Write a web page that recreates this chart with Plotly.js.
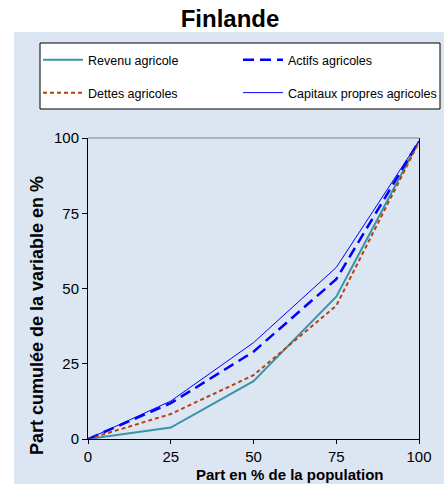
<!DOCTYPE html>
<html>
<head>
<meta charset="utf-8">
<script src="https://cdn.plot.ly/plotly-3.0.1.min.js"></script>
<style>html,body{margin:0;padding:0;background:#fff;}#chart{width:444px;height:484px;}</style>
</head>
<body>
<div id="chart"></div>
<script>
// Data
const popShare = [0, 25, 50, 75, 100];
const revenuAgricole = [0, 3.8, 19.2, 47.3, 99];
const actifsAgricoles = [0, 11.9, 29.0, 53.1, 99];
const dettesAgricoles = [0, 8.3, 21.2, 44.3, 98.7];
const capitauxPropres = [0, 12.6, 32.0, 57.0, 99];
const tickValues = [0, 25, 50, 75, 100];
const tickLabels = ['0', '25', '50', '75', '100'];
const seriesNames = ['Revenu agricole', 'Actifs agricoles', 'Dettes agricoles', 'Capitaux propres agricoles'];

const W = 444, H = 484;
const L = 88, R = 25, T = 138, B = 45;
const pw = W - L - R, ph = H - T - B;
const px = v => (v - L) / pw;          // pixel x -> paper
const py = v => (H - B - v) / ph;      // pixel y -> paper
const FONT = '"Liberation Sans", Arial, sans-serif';
const BG = '#DCE6F2';

const traces = [
  {x: popShare, y: revenuAgricole, name: seriesNames[0], mode: 'lines',
   line: {color: '#3A93A8', width: 2}, legend: 'legend'},
  {x: popShare, y: actifsAgricoles, name: seriesNames[1], mode: 'lines',
   line: {color: '#0000FF', width: 2.5, dash: '11px,6px'}, legend: 'legend'},
  {x: popShare, y: dettesAgricoles, name: seriesNames[2], mode: 'lines',
   line: {color: '#B5420F', width: 2, dash: '4px,3px'}, legend: 'legend2'},
  {x: popShare, y: capitauxPropres, name: seriesNames[3], mode: 'lines',
   line: {color: '#0000FF', width: 1}, legend: 'legend2'}
];

const legendCommon = {
  orientation: 'h', xref: 'paper', yref: 'paper',
  xanchor: 'left', yanchor: 'middle',
  bgcolor: 'rgba(0,0,0,0)', borderwidth: 0,
  entrywidth: 145, entrywidthmode: 'pixels',
  itemwidth: 40,
  font: {family: FONT, size: 12.5, color: '#000'},
  traceorder: 'normal'
};

const layout = {
  width: W, height: H,
  margin: {l: L, r: R, t: T, b: B, pad: 0, autoexpand: false},
  paper_bgcolor: '#FFFFFF',
  plot_bgcolor: BG,
  showlegend: true,
  title: {text: '<b>Finlande</b>', font: {family: FONT, size: 24, color: '#000'},
          xref: 'container', yref: 'container', x: 230 / W, xanchor: 'center',
          y: 1 - 19 / H, yanchor: 'middle'},
  legend: Object.assign({}, legendCommon, {x: px(38), y: py(60)}),
  legend2: Object.assign({}, legendCommon, {x: px(38), y: py(93)}),
  xaxis: {
    range: [0, 100], tickvals: tickValues, ticktext: tickLabels,
    showgrid: false, zeroline: false, showline: true, linecolor: '#000', linewidth: 1,
    ticks: 'outside', ticklen: 4, tickcolor: '#000', tickwidth: 1,
    tickfont: {family: FONT, size: 15, color: '#000'}, fixedrange: true
  },
  yaxis: {
    range: [0, 100], tickvals: tickValues, ticktext: tickLabels,
    showgrid: false, zeroline: false, showline: true, linecolor: '#000', linewidth: 1,
    mirror: true,
    ticks: 'outside', ticklen: 5, tickcolor: '#000', tickwidth: 1,
    tickfont: {family: FONT, size: 15, color: '#000'}, fixedrange: true
  },
  shapes: [
    {type: 'rect', xref: 'paper', yref: 'paper', layer: 'below',
     x0: px(14), x1: px(450), y0: py(490), y1: py(32),
     fillcolor: BG, line: {width: 0}},
    {type: 'rect', xref: 'paper', yref: 'paper', layer: 'below',
     x0: px(40), x1: px(440), y0: py(109), y1: py(43),
     fillcolor: '#FFFFFF', line: {color: '#000', width: 1}},
    {type: 'line', xref: 'paper', yref: 'paper', layer: 'above',
     x0: 0, x1: 1, y0: 1, y1: 1, line: {color: '#808080', width: 1}}
  ],
  annotations: [
    {text: '<b>Part en % de la population</b>', xref: 'paper', yref: 'paper',
     x: px(290), y: py(474), xanchor: 'center', yanchor: 'middle', showarrow: false,
     font: {family: FONT, size: 15, color: '#000'}},
    {text: '<b>Part cumulée de la variable en %</b>', xref: 'paper', yref: 'paper',
     x: px(37), y: py(316), xanchor: 'center', yanchor: 'middle', showarrow: false,
     textangle: -90, font: {family: FONT, size: 18, color: '#000'}}
  ]
};

Plotly.newPlot('chart', traces, layout, {displayModeBar: false, staticPlot: true});
</script>
</body>
</html>
